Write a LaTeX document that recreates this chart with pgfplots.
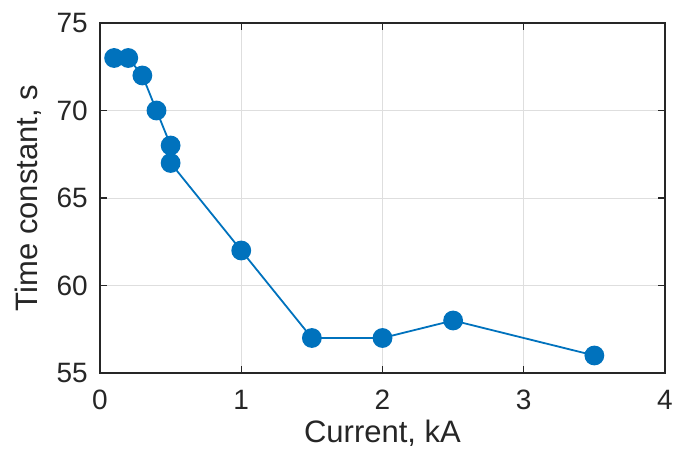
\documentclass[border=0pt]{standalone}
\usepackage{fontspec}
\setmainfont{Liberation Sans}
\usepackage{pgfplots}
\pgfplotsset{compat=1.18}
\definecolor{mblue}{RGB}{0,114,189}
\definecolor{axc}{RGB}{38,38,38}
\begin{document}
\begin{tikzpicture}
\path[use as bounding box] (0,0) rectangle (688pt,454pt);
\begin{axis}[
  at={(100pt,81pt)}, anchor=south west,
  scale only axis, width=565pt, height=350pt,
  xmin=0, xmax=4, ymin=55, ymax=75,
  xtick={0,1,2,3,4}, ytick={55,60,65,70,75},
  grid=major,
  grid style={color=black!13, line width=0.9pt},
  axis line style={color=axc, line width=1.3pt},
  tick style={color=axc, line width=1.3pt},
  major tick length=7pt, tick align=inside,
  /pgf/number format/assume math mode=true,
  ticklabel style={font=\fontsize{28}{32}\selectfont, text=axc, inner sep=0pt},
  xticklabel style={anchor=base, yshift=-37pt},
  yticklabel style={anchor=east, xshift=-12pt},
  label style={font=\fontsize{31}{36}\selectfont, text=axc, inner sep=0pt},
  xlabel={Current, kA},
  ylabel={Time constant, s},
  xlabel style={at={(axis description cs:0.5,-0.2)}, anchor=base},
  ylabel style={at={(axis description cs:-0.1115,0.5)}, anchor=base},
]
\addplot[color=mblue, line width=1.8pt, mark=*, mark size=9pt, mark options={fill=mblue, draw=mblue}]
coordinates {
(0.1,73) (0.2,73) (0.3,72) (0.4,70) (0.5,68) (0.5,67) (1,62) (1.5,57) (2,57) (2.5,58) (3.5,56)
};
\end{axis}
\end{tikzpicture}
\end{document}
